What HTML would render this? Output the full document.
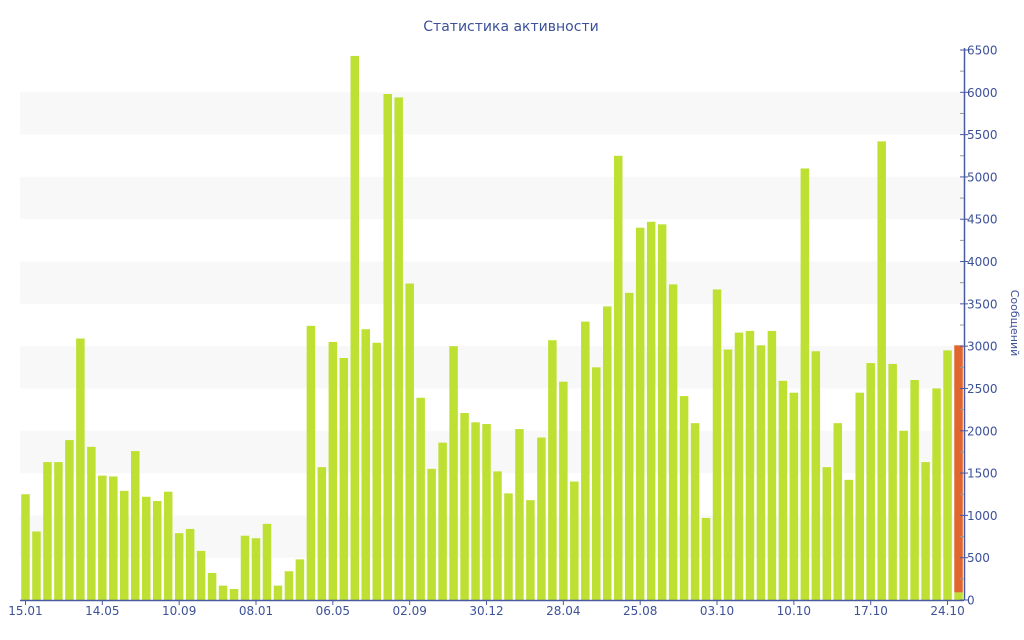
<!DOCTYPE html>
<html><head><meta charset="utf-8"><style>
html,body{margin:0;padding:0;background:#fff;}
svg{display:block;font-family:"DejaVu Sans","Liberation Sans",sans-serif;}
</style></head><body>
<svg id="chart" width="1024" height="640" viewBox="0 0 1024 640" xmlns="http://www.w3.org/2000/svg">
<text x="511" y="31" text-anchor="middle" font-size="14" fill="#3d5199">Статистика активности</text>
<text transform="translate(1011,323) rotate(90)" text-anchor="middle" font-size="11" fill="#3d5199">Сообщений</text>
<g id="bands"></g><g id="bars"></g><g id="axes"></g>
</svg>
<script>
const values = [1250,810,1630,1630,1890,3090,1810,1470,1460,1290,1760,1220,1170,1280,790,840,580,320,170,130,760,730,900,170,340,480,3240,1570,3050,2860,6430,3200,3040,5980,5940,3740,2390,1550,1860,3000,2210,2100,2080,1520,1260,2020,1180,1920,3070,2580,1400,3290,2750,3470,5250,3630,4400,4470,4440,3730,2410,2090,970,3670,2960,3160,3180,3010,3180,2590,2450,5100,2940,1570,2090,1420,2450,2800,5420,2790,2000,2600,1630,2500,2950,90];
const lastExtra = [2920];
const xLabels = ["15.01","14.05","10.09","08.01","06.05","02.09","30.12","28.04","25.08","03.10","10.10","17.10","24.10"];
const xLabelIdx = [0,7,14,21,28,35,42,49,56,63,70,77,84];
const yTicks = [0,500,1000,1500,2000,2500,3000,3500,4000,4500,5000,5500,6000,6500];

const NS="http://www.w3.org/2000/svg";
const X0=20,X1=964,Y0=600,Y1=50,YMAX=6500;
const step=(X1-X0)/values.length;
const yS=v=>Y0-v/YMAX*(Y0-Y1);
const xc=i=>X0+step*(i+0.5);
function mk(tag,attrs,parent){const e=document.createElementNS(NS,tag);for(const k in attrs)e.setAttribute(k,attrs[k]);document.getElementById(parent).appendChild(e);return e;}

for(let v=500;v<6500;v+=1000){
  const r=mk('rect',{x:X0,y:yS(v+500),width:X1-X0,height:yS(v)-yS(v+500),fill:'#f8f8f8'},'bands');
  
  
}
values.forEach((v,i)=>{
  const r=mk('rect',{x:xc(i)-4.25,y:yS(v),width:8.5,height:Y0-yS(v),fill:'#bde032'},'bars');
  
  
});
const li=values.length-1,base=values[li],stackTop=base+lastExtra[0];
const ob=mk('rect',{x:xc(li)-4.25,y:yS(stackTop),width:8.5,height:yS(base)-yS(stackTop),fill:'#e0652f'},'bars');



const ax='#4a5aa0';
const xa=mk('line',{x1:X0,y1:Y0+0.5,x2:X1,y2:Y0+0.5,stroke:ax,'stroke-width':1.5},'axes');


const ya=mk('line',{x1:X1+0.5,y1:Y1-2,x2:X1+0.5,y2:Y0,stroke:ax,'stroke-width':1.5},'axes');


yTicks.forEach(v=>{
  mk('line',{x1:X1-4,y1:yS(v),x2:X1+4,y2:yS(v),stroke:ax},'axes');
  const t=mk('text',{x:X1+3,y:yS(v)+4.5,'font-size':12,fill:'#3d5199'},'axes');
  t.textContent=v;
  
  
  if(v<6500) mk('line',{x1:X1-4,y1:yS(v+250),x2:X1,y2:yS(v+250),stroke:'#999'},'axes');
});
xLabels.forEach((s,k)=>{
  const cx=xc(xLabelIdx[k]);
  mk('line',{x1:cx,y1:Y0,x2:cx,y2:Y0+5,stroke:ax},'axes');
  const t=mk('text',{x:cx,y:Y0+15,'font-size':12,'text-anchor':'middle',fill:'#3d5199'},'axes');
  t.textContent=s;
  
  
});
</script>
</body></html>
